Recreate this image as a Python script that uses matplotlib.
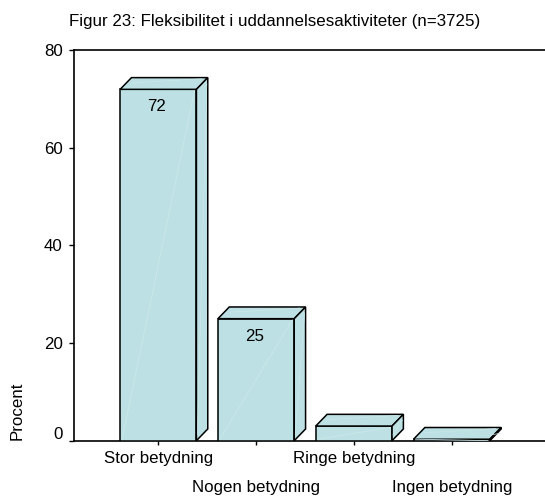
import matplotlib
matplotlib.use("Agg")
import matplotlib.pyplot as plt
from matplotlib.patches import Polygon
from matplotlib.transforms import ScaledTranslation

plt.rcParams['font.family'] = ['Liberation Sans', 'DejaVu Sans']

title = "Figur 23: Fleksibilitet i uddannelsesaktiviteter (n=3725)"
categories = ["Stor betydning", "Nogen betydning", "Ringe betydning", "Ingen betydning"]
values = [72, 25, 3, 0.3]
shown_labels = ["72", "25", "", ""]
yticks = [0, 20, 40, 60, 80]
ylabel = "Procent"

FACE = "#BCE0E3"
SHINE = "#CCE8EA"
BAR_W = 0.78
DX, DY = 0.116, 2.4   # depth of the 3D effect in data units
FS = 12.2

fig = plt.figure(figsize=(5.45, 4.98), dpi=100)
ax = fig.add_axes([0.1352, 0.1151, 0.8648, 0.7839])
ax.set_xlim(-0.865, 3.954)
ax.set_ylim(0, 80)

xs = list(range(len(categories)))
ax.bar(xs, values, width=BAR_W, color=FACE, edgecolor="black", linewidth=1.1, zorder=3)
for x, v in zip(xs, values):
    l, r = x - BAR_W / 2, x + BAR_W / 2
    top = Polygon([(l, v), (r, v), (r + DX, v + DY), (l + DX, v + DY)], closed=True,
                  facecolor=FACE, edgecolor="black", linewidth=1.1, zorder=3, clip_on=False)
    side = Polygon([(r, 0), (r, v), (r + DX, v + DY), (r + DX, DY)], closed=True,
                   facecolor=FACE, edgecolor="black", linewidth=1.1, zorder=3, clip_on=False)
    ax.add_patch(top)
    ax.add_patch(side)
    # faint sheen lines
    ax.plot([l + 0.02, r - 0.02], [0.3, v - 0.3], color=SHINE, lw=0.6, zorder=4)
    ax.plot([r + 0.01, r + DX - 0.01], [DY * 0.5, v + DY * 0.5], color=SHINE, lw=0.5, zorder=4)
    ax.plot([l + DX, r + DX * 0.5], [v + DY * 0.55, v + DY * 0.9], color=SHINE, lw=0.5, zorder=4)

for x, v, s in zip(xs, values, shown_labels):
    if s:
        ax.annotate(s, xy=(x, v), xytext=(-1, -12.5), textcoords="offset points",
                    ha="center", va="center", fontsize=FS, zorder=5)

ax.spines["right"].set_visible(False)
for side in ["left", "top", "bottom"]:
    ax.spines[side].set_linewidth(1.2)

ax.set_yticks(yticks)
ax.set_yticklabels([str(t) for t in yticks])
ax.tick_params(axis="y", direction="out", length=3.3, width=1.0, pad=4.5, labelsize=FS)
ax.set_xticks(xs)
ax.set_xticklabels(categories)
ax.tick_params(axis="x", direction="out", length=3.0, width=1.0, pad=4.2, labelsize=FS)

# alternate rows for the category labels
for i, lab in enumerate(ax.get_xticklabels()):
    if i % 2 == 1:
        lab.set_transform(lab.get_transform() + ScaledTranslation(0, -29 / 100, fig.dpi_scale_trans))
# the "0" label sits a bit above its tick
ax.get_yticklabels()[0].set_transform(
    ax.get_yticklabels()[0].get_transform() + ScaledTranslation(0, 8 / 100, fig.dpi_scale_trans))

fig.text(0.503, 0.948, title, ha="center", va="baseline", fontsize=FS)
fig.text(17 / 545, 0.1165, ylabel, rotation=90, ha="center", va="bottom", fontsize=FS)

fig.savefig("out.png", dpi=100)
